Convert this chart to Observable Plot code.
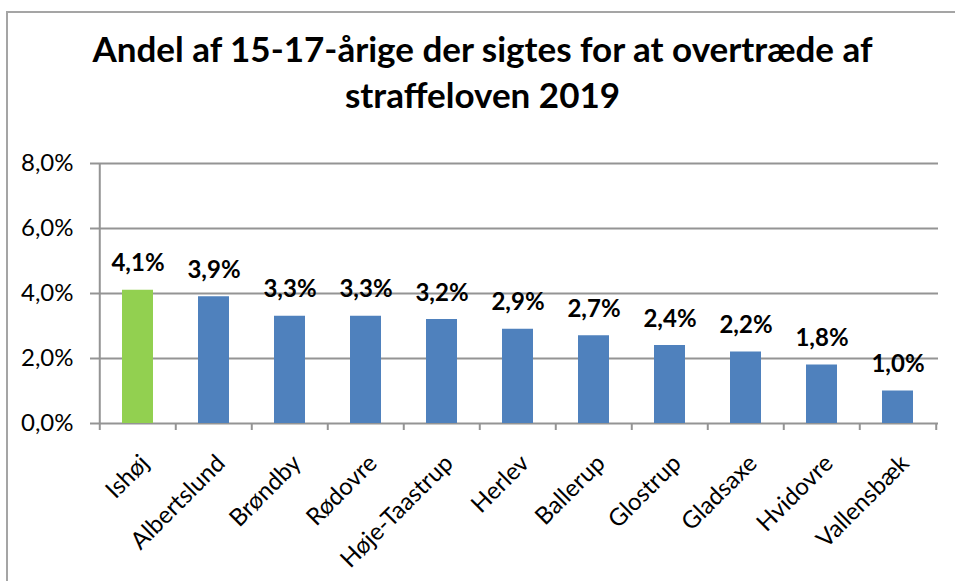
<!DOCTYPE html>
<html><head><meta charset="utf-8">
<script src="https://cdn.jsdelivr.net/npm/d3@7"></script>
<script src="https://cdn.jsdelivr.net/npm/@observablehq/plot@0.6"></script>
<style>
body{margin:0;background:#fff;font-family:Lato,sans-serif;}
#wrap{position:relative;width:955px;height:581px;overflow:hidden;background:#fff;}
#frame{position:absolute;left:6px;top:11px;width:1000px;height:700px;border:2px solid #a5a5a5;box-sizing:border-box;}
#title{position:absolute;left:0;width:965px;top:25px;text-align:center;font-weight:bold;font-size:35px;line-height:46px;color:#000;}
#chart{position:absolute;left:0;top:0;}
</style></head>
<body>
<div id="wrap">
<div id="frame"></div>
<div id="title">Andel af 15-17-årige der sigtes for at overtræde af<br>straffeloven 2019</div>
<div id="chart"></div>
</div>
<script>
const municipalities = ["Ishøj","Albertslund","Brøndby","Rødovre","Høje-Taastrup","Herlev","Ballerup","Glostrup","Gladsaxe","Hvidovre","Vallensbæk"];
const shares = [4.1,3.9,3.3,3.3,3.2,2.9,2.7,2.4,2.2,1.8,1.0];
const highlight = "Ishøj";
const yTicks = [0,2,4,6,8];

const data = municipalities.map((m,i)=>({name:m, value:shares[i]/100}));
const W=955,H=581,mL=97,mR=17,mT=163,mB=158;
const step=(W-mL-mR)/municipalities.length;
const grid="#949494";
const fmt = v => d3.format(".1f")(v*100).replace(".",",")+"%";

const chart = Plot.plot({
  width:W,height:H,marginLeft:mL,marginRight:mR,marginTop:mT,marginBottom:mB,
  style:{fontFamily:"Lato, sans-serif",background:"transparent",overflow:"visible",color:"#000"},
  x:{domain:municipalities,paddingInner:0.59,paddingOuter:0.295,axis:null,label:null},
  y:{domain:[0,0.08],axis:null,label:null},
  color:{type:"identity"},
  marks:[
    Plot.ruleY(yTicks.map(d=>d/100),{stroke:grid,strokeWidth:2}),
    Plot.axisY(yTicks.map(d=>d/100),{tickSize:7,tickPadding:17,fontSize:24,tickFormat:fmt,stroke:grid,strokeWidth:2,fill:"#000",label:null}),
    Plot.ruleX([municipalities[0]],{x:d=>d,dx:-step/2,y1:0,y2:0.08,stroke:grid,strokeWidth:2}),
    Plot.axisX({tickSize:7,text:null,dx:-step/2,stroke:grid,strokeWidth:2,label:null}),
    Plot.axisX([municipalities[municipalities.length-1]],{tickSize:7,text:null,dx:step/2,stroke:grid,strokeWidth:2,label:null}),
    Plot.barY(data,{x:"name",y:"value",fill:d=>d.name===highlight?"#92D050":"#4F81BD"}),
    Plot.text(data,{x:"name",y:"value",text:d=>fmt(d.value),dy:-19,lineAnchor:"bottom",fontWeight:"bold",fontSize:24,fill:"#000"}),
    Plot.axisX({tickSize:0,tickRotate:-45,textAnchor:"end",fontSize:24,dx:7,dy:24,fill:"#000",tickFormat:d=>d,label:null})
  ]
});
document.getElementById("chart").appendChild(chart);
</script>
</body></html>
